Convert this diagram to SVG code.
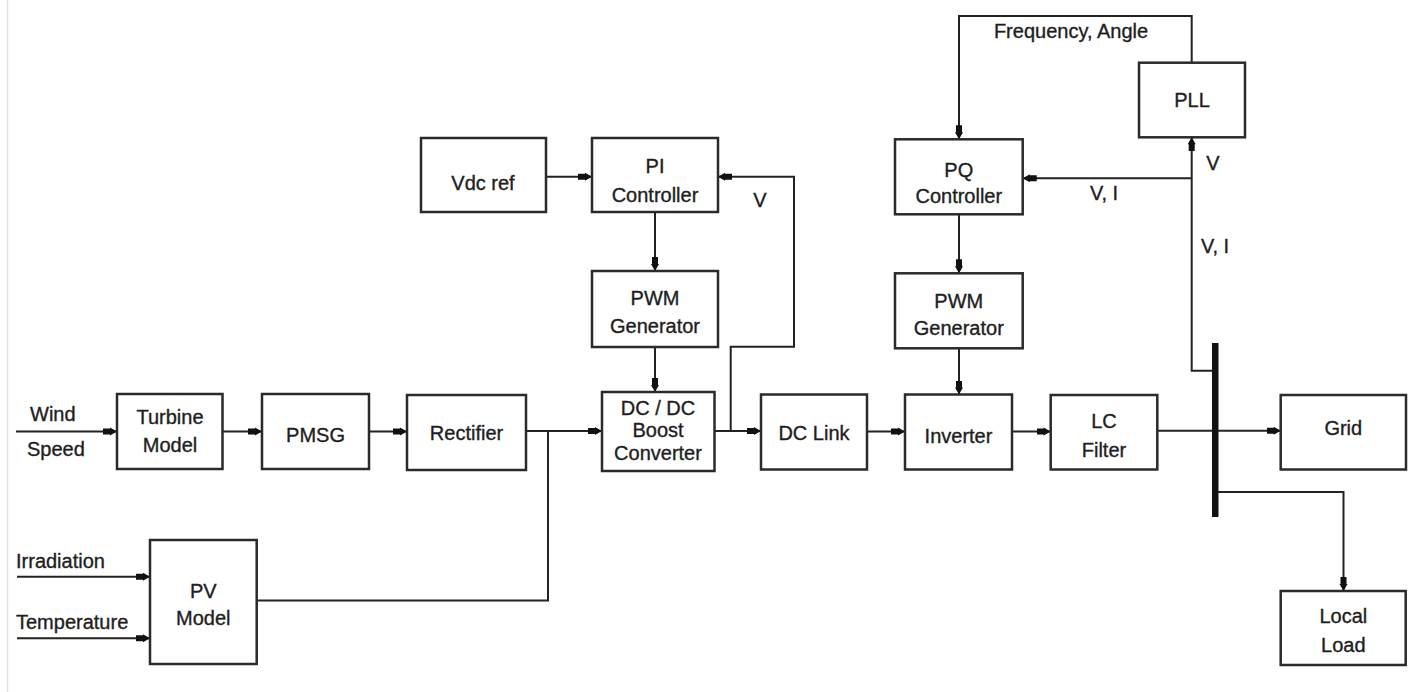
<svg xmlns="http://www.w3.org/2000/svg" width="1413" height="692" viewBox="0 0 1413 692">
<style>
.box{fill:#fff;stroke:#2a2a2a;stroke-width:2.5}
.ln{fill:none;stroke:#222;stroke-width:2}
.ar{marker-end:url(#arr)}
text{font-family:"Liberation Sans",Arial,sans-serif;font-size:20px;fill:#1e1e1e;text-anchor:middle;stroke:#1e1e1e;stroke-width:0.35}
.lbl{text-anchor:start}
</style>
<defs>
<marker id="arr" markerUnits="userSpaceOnUse" viewBox="0 -5 14 10" markerWidth="14" markerHeight="10" refX="14" refY="0" orient="auto">
<path d="M0,-3 L7,-3 L7,-4 L14,0 L7,4 L7,3 L0,3 Z" fill="#111"/>
</marker>
</defs>
<rect width="1413" height="692" fill="#fff"/>
<line x1="7.5" y1="0" x2="7.5" y2="692" stroke="#e2e2e2" stroke-width="1.5"/>

<g id="connectors">
<path class="ln ar" d="M16,431.5 H117"/>
<path class="ln ar" d="M222.5,431.5 H262"/>
<path class="ln ar" d="M369,431.5 H407"/>
<path class="ln ar" d="M526,431 H602"/>
<path class="ln" d="M256.7,600.5 H548 V431"/>
<path class="ln ar" d="M714.5,431 H761"/>
<path class="ln ar" d="M730.7,431 V346.7 H794 V176.7 H718"/>
<path class="ln ar" d="M546,176.7 H592"/>
<path class="ln ar" d="M655,212 V271"/>
<path class="ln ar" d="M655,347 V392"/>
<path class="ln ar" d="M867,431.5 H905"/>
<path class="ln ar" d="M1012,431.5 H1050.7"/>
<path class="ln ar" d="M1157.3,430.7 H1280.7"/>
<path class="ln ar" d="M1215,492 H1343.5 V591"/>
<path class="ln ar" d="M1215,370.7 H1191.7 V137.3"/>
<path class="ln ar" d="M1191.7,178.3 H1022.7"/>
<path class="ln ar" d="M1191.7,62.7 V16 H959 V139.3"/>
<path class="ln ar" d="M959,214.3 V273.3"/>
<path class="ln ar" d="M959,348.3 V394.5"/>
<path class="ln ar" d="M17,576.7 H150"/>
<path class="ln ar" d="M17,638.3 H150"/>
<rect id="bus" x="1212" y="343" width="6.5" height="174" fill="#111"/>
<text class="lbl" x="30" y="420.5">Wind</text>
<text class="lbl" x="27" y="456">Speed</text>
<text class="lbl" x="16" y="568">Irradiation</text>
<text class="lbl" x="16" y="629">Temperature</text>
<text x="760" y="206.5">V</text>
<text x="1071" y="37.5">Frequency, Angle</text>
<text x="1213" y="170">V</text>
<text x="1104" y="200">V, I</text>
<text x="1215" y="253">V, I</text>
</g>

<g id="turbine"><rect class="box" x="117" y="394" width="105.5" height="75"/><text x="170" y="423.5">Turbine</text><text x="170" y="451.5">Model</text></g>
<g id="pmsg"><rect class="box" x="262" y="394" width="107" height="75"/><text x="315.5" y="442">PMSG</text></g>
<g id="rectifier"><rect class="box" x="407" y="395" width="119" height="75"/><text x="466.5" y="440">Rectifier</text></g>
<g id="dcdc"><rect class="box" x="602" y="392" width="112.5" height="79"/><text x="658" y="415">DC / DC</text><text x="658" y="436.5">Boost</text><text x="658" y="460">Converter</text></g>
<g id="vdcref"><rect class="box" x="421" y="138" width="125" height="74"/><text x="483" y="189.5">Vdc ref</text></g>
<g id="pi"><rect class="box" x="592" y="138" width="126" height="74"/><text x="655" y="173">PI</text><text x="655" y="201.5">Controller</text></g>
<g id="pwm1"><rect class="box" x="592" y="271" width="126" height="76"/><text x="655" y="305">PWM</text><text x="655" y="333">Generator</text></g>
<g id="dclink"><rect class="box" x="761" y="394.5" width="106" height="75"/><text x="814" y="440">DC Link</text></g>
<g id="inverter"><rect class="box" x="905" y="394.5" width="107" height="75"/><text x="958.5" y="443">Inverter</text></g>
<g id="lcfilter"><rect class="box" x="1050.7" y="395" width="106.6" height="74.5"/><text x="1104" y="428">LC</text><text x="1104" y="456.5">Filter</text></g>
<g id="grid"><rect class="box" x="1280.7" y="395" width="125.3" height="74.5"/><text x="1343.3" y="435">Grid</text></g>
<g id="localload"><rect class="box" x="1280.7" y="591" width="125" height="74"/><text x="1343.3" y="623">Local</text><text x="1343.3" y="652">Load</text></g>
<g id="pv"><rect class="box" x="150" y="540" width="106.7" height="124"/><text x="203.3" y="598">PV</text><text x="203.3" y="625">Model</text></g>
<g id="pq"><rect class="box" x="895" y="139.3" width="127.7" height="75"/><text x="958.8" y="176.5">PQ</text><text x="958.8" y="203">Controller</text></g>
<g id="pwm2"><rect class="box" x="895" y="273.3" width="127.7" height="75"/><text x="958.8" y="308">PWM</text><text x="958.8" y="335">Generator</text></g>
<g id="pll"><rect class="box" x="1139" y="62.7" width="106" height="74.6"/><text x="1192" y="106.5">PLL</text></g>
</svg>
